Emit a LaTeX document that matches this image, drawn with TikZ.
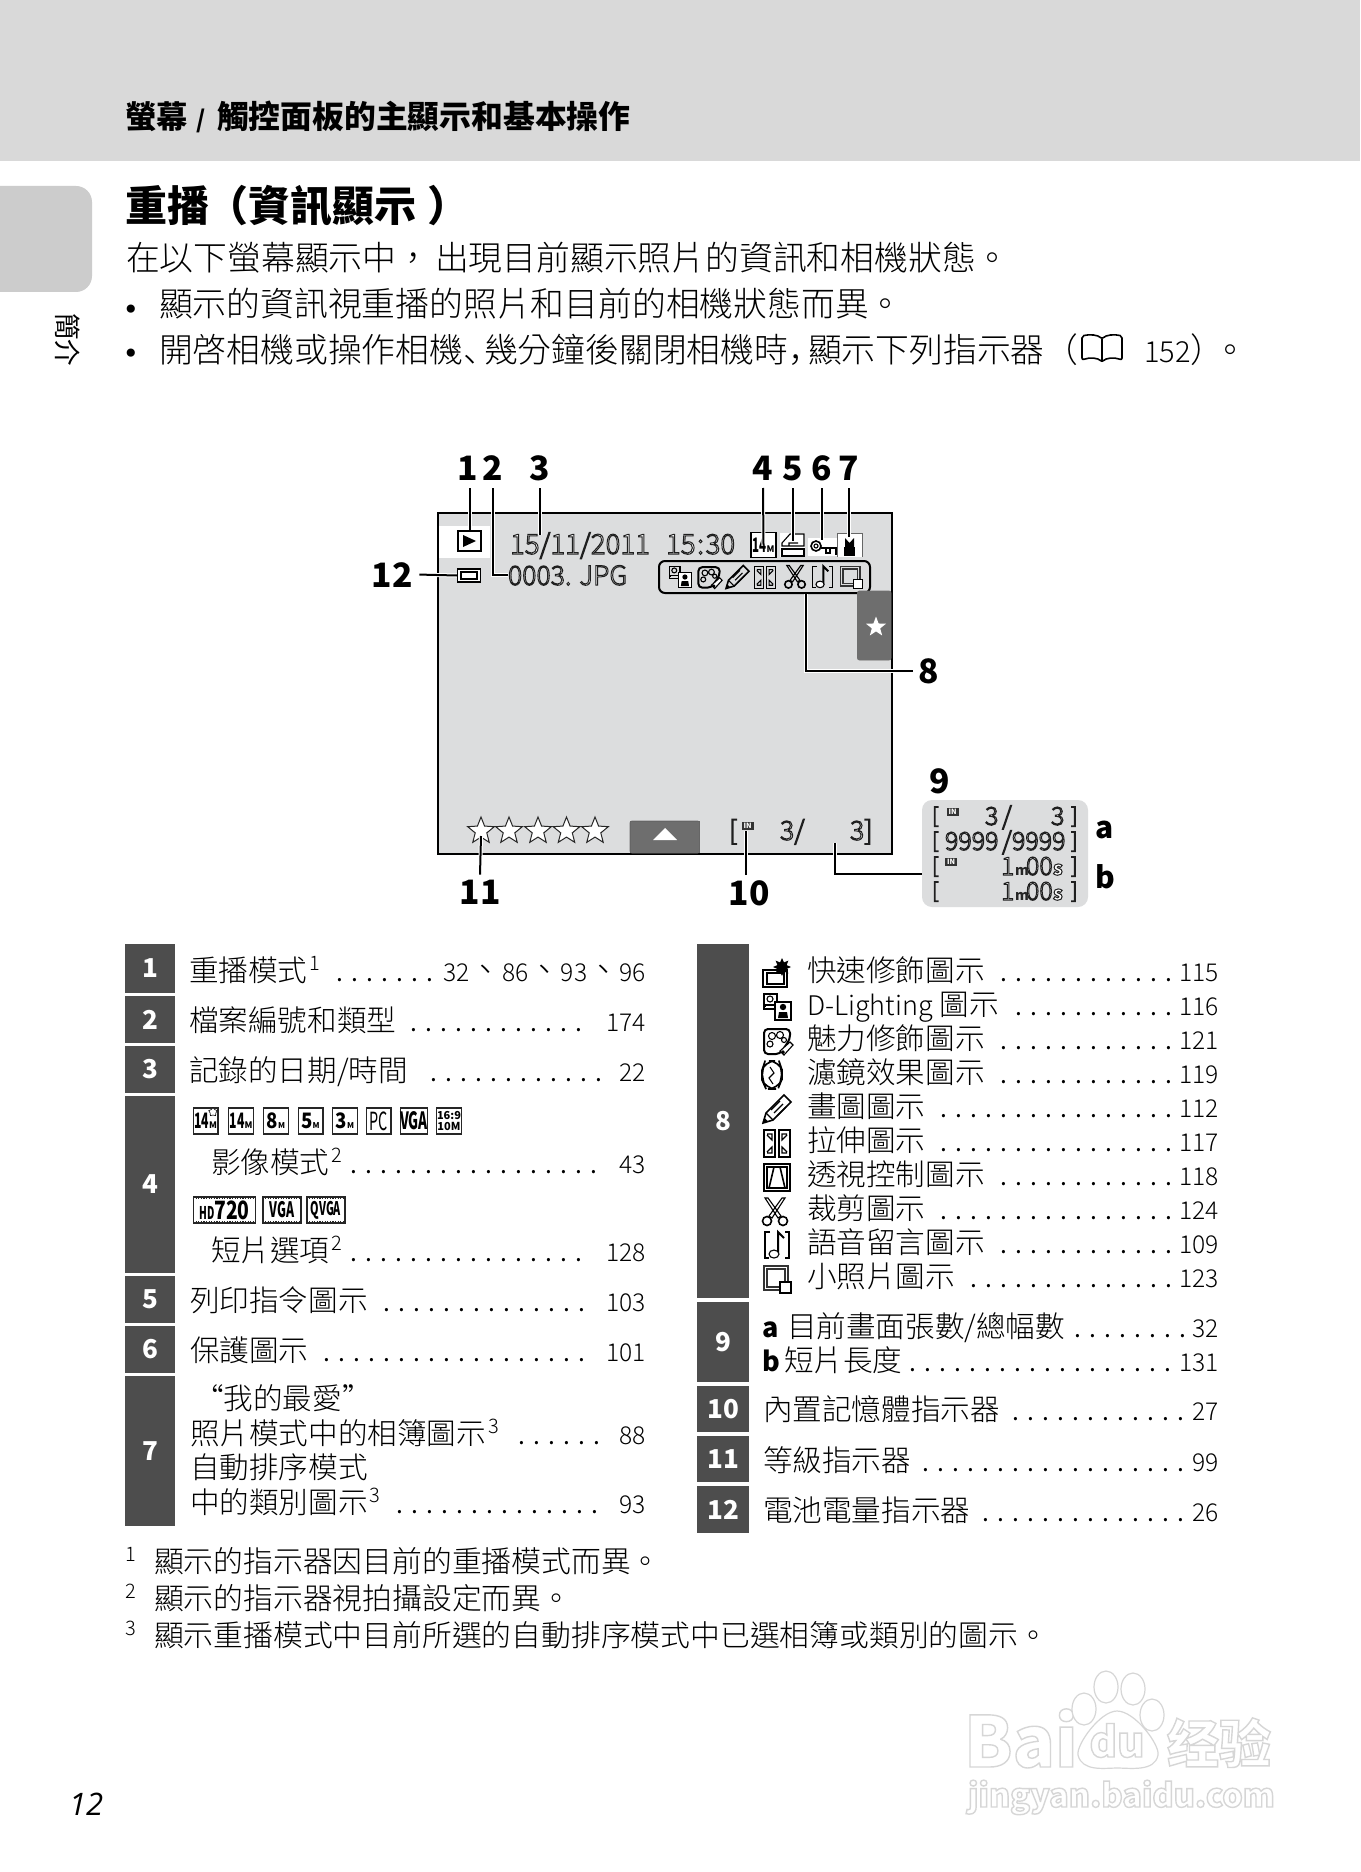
\documentclass[tikz,border=0pt]{standalone}
\usepackage{fontspec}
\usepackage{graphicx}
\usetikzlibrary{shapes.geometric}
\setmainfont{Noto Sans CJK TC}
\newfontfamily\lf{Noto Sans CJK TC Light}
\newfontfamily\jpf{Noto Sans CJK JP Light}
\newfontfamily\osf{Open Sans}
\newfontfamily\djf{DejaVu Sans}
\newcommand\fs[1]{\fontsize{#1}{#1}\selectfont}
\newcommand\pn[1]{{\jpf #1}}
\newcommand\nar[1]{\scalebox{.72}[1.25]{#1}}
\newcommand\wid[1]{\scalebox{1.1}[1.25]{#1}}
\newcommand\ol[1]{\special{pdf:code 2 Tr 0.5 w 0.12 G 1 g}#1\special{pdf:code 0 Tr 0 g 0 G}}
\newcommand\wmk[1]{\special{pdf:code 2 Tr 0.7 w 0.84 G 1 g}#1\special{pdf:code 0 Tr 0 g 0 G}}
\newcommand\sups[1]{\kern1pt\raisebox{5.5pt}{\fs{10}#1}}
\definecolor{band}{HTML}{D9D9D9}
\definecolor{tabc}{HTML}{CCCCCC}
\definecolor{screen}{HTML}{DCDDDE}
\definecolor{numc}{HTML}{4D4D4D}
\definecolor{midg}{HTML}{6E6E6E}
\newcount\tc
\tikzset{
 txt/.style={inner sep=0pt,outer sep=0pt,anchor=base west},
 txr/.style={inner sep=0pt,outer sep=0pt,anchor=base east},
 txc/.style={inner sep=0pt,outer sep=0pt,anchor=base},
 tb/.style={font=\lf\fs{14.8},yshift=-.75pt},
 pg/.style={font=\lf\fs{12.3},yshift=-.75pt},
 body/.style={font=\lf\fs{16.9}},
 foot/.style={font=\lf\fs{14.9}},
 lab/.style={txc,font=\fs{16.8}\bfseries},
 screentxt/.style={font=\lf\fs{13.3}},
 datetxt/.style={font=\lf\fs{13.8}},
 pantxt/.style={font=\lf\fs{12.5}},
 pbr/.style={font=\lf\fs{10.5}},
 numbox/.style={fill=numc},
 numtxt/.style={inner sep=0pt,text=white,font=\fs{13}\bfseries},
 lead/.style={line width=1pt,black,line cap=butt,preaction={draw,white,line width=2pt}},
 ic/.style={line width=.55pt,black},
 pic1/.style={draw=black!85,line width=.6pt,inner sep=0pt,minimum width=12.4pt,minimum height=13pt,font=\fs{8.5}\bfseries},
 film/.style={pic1,fill=white},
 filmd/.style={line width=.6pt,dash pattern=on .6pt off .7pt,black!85},
 ratestar/.style={star,star points=5,star point ratio=2.3,draw=black!85,fill=white,line width=.5pt,minimum size=14pt,inner sep=0pt},
 wm/.style={draw=black!16,fill=white,line width=.6pt},
}
\newcommand\T[4][]{\global\advance\tc by 1 \node[txt,#1] (t\the\tc) at (#2,#3) {#4};}
\newcommand\R[4][]{\global\advance\tc by 1 \node[txr,#1] (t\the\tc) at (#2,#3) {#4};}
% dot leader: first dot centre, count, baseline
\newcommand\ldr[3]{\global\advance\tc by 1 \node[txt,font=\fs{12.3},yshift=-.75pt] (t\the\tc) at ({#1-7.5},#3) {\hbox to #2\dimexpr 7.5pt\relax{\xleaders\hbox to 7.5pt{\hss.\hss}\hfill}};}
\newcommand\NB[6]{\path[numbox] (#2,#3) rectangle node[numtxt] (#1) {#6} (#4,#5);}
% icons, drawn round a centre, about 28 px across
\newcommand\icDL[3]{\begin{scope}[shift={(#1,#2)},scale=#3]
 \draw[ic] (-13,-13) rectangle (0,2); \draw[ic] (-7,-8) circle (3); \draw[ic] (-12,0)--(-12,-2)--(-2,-2)--(-2,0);
 \draw[ic,fill=white] (-2,-5) rectangle (14,13); \fill (6,0) circle (3.2); \fill (1,11)--(2,5)--(10,5)--(11,11)--cycle;\end{scope}}
\newcommand\icGlam[3]{\begin{scope}[shift={(#1,#2)},scale=#3]
 \draw[line width=1pt,rounded corners=2pt] (-13,-12)--(13,-12)--(13,-2)--(3,13)--(-13,13)--cycle;
 \draw[ic] (-5,-5) circle (3.5) (3,-6) circle (3.5) (7,-1) circle (2.5) (-7,3) circle (3);
 \draw[ic,fill=white] (3,10) -- (13,1) -- (16,4) -- (7,14) -- cycle; \draw[ic] (6,11) circle (1.2);\end{scope}}
\newcommand\icPencil[3]{\begin{scope}[shift={(#1,#2)},scale=#3]
 \draw[line width=.8pt] (-14,14)--(-11,4)--(7,-14)--(14,-7)--(-4,11)--cycle; \draw[ic] (-11,4)--(-4,11) (-6,1)--(3,-8) (-3,4)--(6,-5) (0,7)--(9,-2); \fill (-14,14)--(-12.5,9)--(-9,12.5)--cycle;\end{scope}}
\newcommand\icStretch[3]{\begin{scope}[shift={(#1,#2)},scale=#3]
 \draw[line width=.7pt] (-13,-13) rectangle (-2,14) (2,-13) rectangle (13,14);
 \draw[ic] (-10,-9)--(-5,-9)--(-5,-3)--(-10,-8) (10,-9)--(5,-9)--(5,-3)--(10,-8) (-10,10)--(-5,10)--(-5,4)--(-10,9) (10,10)--(5,10)--(5,4)--(10,9);\end{scope}}
\newcommand\icPersp[3]{\begin{scope}[shift={(#1,#2)},scale=#3]
 \draw[line width=1pt] (-13,-13) rectangle (13,14); \draw[ic] (-10,-10) rectangle (10,11); \draw[line width=.8pt] (-3,-10)--(-8,11) (3,-10)--(8,11);\end{scope}}
\newcommand\icCut[3]{\begin{scope}[shift={(#1,#2)},scale=#3]
 \draw[line width=.55pt] (-10,-14)--(-7,-14)--(6,4)--(3,6)--cycle (10,-14)--(7,-14)--(-6,4)--(-3,6)--cycle; \draw[line width=.8pt] (-8,9) circle (4.5) (8,9) circle (4.5);\end{scope}}
\newcommand\icVoice[3]{\begin{scope}[shift={(#1,#2)},scale=#3]
 \draw[line width=.8pt] (-7,-13)--(-12,-13)--(-12,13)--(-8,13) (8,-13)--(12,-13)--(12,13)--(8,13);
 \draw[line width=1pt] (1,8)--(1,-13)--(7,-7); \draw[ic,fill=white] (-3,9) ellipse (5 and 4);\end{scope}}
\newcommand\icSmall[3]{\begin{scope}[shift={(#1,#2)},scale=#3]
 \draw[line width=.7pt,black!80] (-13,-13) rectangle (11,11) (-10,-10) rectangle (8,8); \draw[ic,fill=white] (3,3) rectangle (14,14);\end{scope}}
\newcommand\icQuick[3]{\begin{scope}[shift={(#1,#2)},scale=#3]
 \draw[line width=.8pt] (-14,-3) rectangle (10,14); \draw[ic] (-10,0) rectangle (7,11);
 \node[star,star points=8,star point ratio=1.8,fill=black,minimum size=9pt,inner sep=0pt] (qs) at (5,-6) {};\end{scope}}
\newcommand\icFilter[3]{\begin{scope}[shift={(#1,#2)},scale=#3]
 \draw[line width=.8pt,rounded corners=5pt] (-7,-14)--(7,-14)--(10,-5)--(10,4)--(6,14)--(-6,14)--(-10,5)--(-10,-5)--cycle;
 \draw[ic] (-2,-8)--(2,-2)--(-3,3)--(1,9);\end{scope}}
\newcommand\icIN[2]{\node[fill=black!80,text=white,inner sep=0pt,minimum width=6pt,minimum height=4pt,font=\fs{3.6}\bfseries] (t\the\tc i#1) at (#1,#2) {IN};}
\newcommand\panelrow[1]{\T[pbr]{932}{#1}{\ol{[}}\T[pbr]{1071}{#1}{\ol{]}}}
\newcommand\mrow[1]{\T[pantxt]{1001}{#1}{\ol{1}}\T[font=\fs{7}\bfseries,text=black!85]{1015}{#1}{m}\T[pantxt]{1026}{#1}{\ol{00}}\T[font=\fs{9.5}\bfseries]{1053}{#1}{\ol{s}}}
\begin{document}
\begin{tikzpicture}[x=.5pt,y=-.5pt]
\useasboundingbox (0,0) rectangle (1360,1872);
\fill[white] (0,0) rectangle (1360,1872);
% header
\fill[band] (0,0) rectangle (1360,161);
\T[font=\fs{15.7}\bfseries]{125}{129}{螢幕}
\T[font=\fs{12}\bfseries]{196}{129}{/}
\T[font=\fs{15.9}\bfseries]{217}{129}{觸控面板的主顯示和基本操作}
% side tab
\fill[tabc,rounded corners=8pt] (-20,186) rectangle (92,292);
\node[rotate=-90,inner sep=0pt,font=\fs{13.3}] (side) at (68,340) {簡介};
% title and intro
\T[font=\fs{21}\bfseries]{125}{222}{重播}
\T[font=\fs{21}\bfseries]{206}{222}{（資訊顯示\kern6pt）}
\T[body]{126}{271}{在以下螢幕顯示中，}
\T[body]{435}{271}{出現目前顯示照片的資訊和相機狀態。}
\node[txc,font=\djf\fs{14}] (b1) at (131,320) {•};
\T[body]{159}{317}{顯示的資訊視重播的照片和目前的相機狀態而異。}
\node[txc,font=\djf\fs{14}] (b2) at (131,364) {•};
\T[body]{159}{363}{開啓相機或操作相機\pn{、}}
\T[body]{484}{363}{幾分鐘後關閉相機時\pn{，}}
\T[body]{808}{363}{顯示下列指示器（}
\draw[line width=.8pt,rounded corners=1pt] (1082,336) .. controls (1090,334) and (1098,335) .. (1102,339) .. controls (1106,335) and (1114,334) .. (1122,336) -- (1122,360) .. controls (1114,357) and (1106,358) .. (1102,362) .. controls (1098,358) and (1090,357) .. (1082,360) -- cycle;
\draw[line width=.8pt] (1102,339) -- (1102,362);
\T[font=\lf\fs{14.5}]{1144}{363}{152}
\T[body]{1190}{363}{）\kern-5pt。}
% screen
\draw[fill=screen,line width=1pt] (438,513) rectangle (892,854);
\fill[white] (439,526) rectangle (490,558);
\node[draw=black,line width=.8pt,fill=white,inner sep=0pt,minimum width=11.5pt,minimum height=10pt] (play) at (469.5,541) {};
\fill (463,535) -- (463,547) -- (476,541) -- cycle;
\node[txt,datetxt] (date) at (510,554) {\ol{15/11/2011}};
\node[txt,datetxt] (time) at (666,554) {\ol{15\kern.8pt:\kern.8pt30}};
\node[txt,screentxt] (filen) at (508,585) {\ol{0003. JPG}};
% battery
\node[draw=black,line width=.6pt,fill=white,inner sep=0pt,minimum width=11.5pt,minimum height=6.5pt] (batt) at (469,575.5) {};
\draw[ic] (461,572) rectangle (477,579);
% 14M
\node[draw=black,fill=white,line width=.7pt,inner sep=0pt,minimum width=12.5pt,minimum height=12.5pt,font=\fs{8}\bfseries] (m14) at (763.5,545) {\nar{14}{\fs{4.5}M}};
\fill[white] (780,533) rectangle (805,557);
\draw[ic] (782,546)--(782,543)--(790,534)--(804,534)--(804,546)--cycle (789,546)--(789,543)--(798,543); \draw[ic] (782,549) rectangle (804,556);
\coordinate (c5) at (792.5,541);
\fill[white] (808,538) rectangle (837,556);
\draw[line width=.8pt] (816,546) circle (5); \draw[ic] (816,546) circle (2); \draw[line width=.7pt] (821,548)--(836,548)--(836,555) (826,548)--(826,553)--(830,553)--(830,548);
\coordinate (c6) at (822,540);
\fill[white] (837,533) rectangle (862,557); \draw[black!60,line width=.4pt] (837,557)--(837,533)--(862,533)--(862,557);
\fill (844,547) rectangle (855,556); \fill (845,538) -- (849.5,543) -- (854,538) -- (854,547) -- (845,547) -- cycle;
\coordinate (c7) at (849,537);
% icon bar
\node[draw=black,fill=screen,line width=1pt,rounded corners=3pt,inner sep=0pt,minimum width=105.5pt,minimum height=16pt] (bar) at (764.5,577) {};
\icDL{680}{577}{.82}
\icGlam{709}{577}{.82}
\icPencil{737.5}{577}{.82}
\icStretch{765}{577}{.82}
\icCut{795}{577}{.82}
\icVoice{822.5}{577}{.82}
\icSmall{851}{577}{.82}
% star tab
\draw[midg,fill=midg,rounded corners=1pt] (857.5,591) rectangle (891,660);
\node[star,star points=5,star point ratio=2.4,fill=white,inner sep=0pt,minimum size=10.5pt] (favstar) at (876,627) {};
% rating stars
\node[ratestar] (s1) at (481,831) {};
\node[ratestar] (s2) at (509,831) {};
\node[ratestar] (s3) at (538,831) {};
\node[ratestar] (s4) at (566.5,831) {};
\node[ratestar] (s5) at (595,831) {};
\draw[midg,fill=midg,rounded corners=1pt] (630,821) rectangle (699.5,853);
\draw[black!60,line width=.3pt] (630,853)--(630,821)--(699.5,821)--(699.5,853);
\fill[white] (653,840) -- (665,828) -- (677,840) -- cycle;
\node[txt,screentxt] (brk) at (729,840) {\ol{[}};
\icIN{747.5}{826}
\node[txt,screentxt] (cnt) at (780,840) {\ol{3/}};
\node[txt,screentxt] (tot) at (850,840) {\ol{3]}};
% labels and leaders
\node[lab] (n1) at (468,480) {1};
\node[lab] (n2) at (493,480) {2};
\node[lab] (n3) at (540,480) {3};
\node[lab] (n4) at (763,480) {4};
\node[lab] (n5) at (792.5,480) {5};
\node[lab] (n6) at (822,480) {6};
\node[lab] (n7) at (849,480) {7};
\node[lab] (n12) at (392,587) {12};
\node[lab] (n8) at (929,683) {8};
\node[lab] (n9) at (940,793) {9};
\node[lab] (n11) at (480,904) {11};
\node[lab] (n10) at (749,905) {10};
\coordinate (c3) at (540,535);
\coordinate (c8) at (806,594);
\coordinate (c8e) at ([xshift=-3pt]n8.west);
\coordinate (c11) at (481,836);
\coordinate (c10) at (746,831);
\coordinate (c9) at (835,843);
\coordinate (c9e) at (924,874);
\draw[lead] ([yshift=-4pt]n1.south -| play.north) -- (play.north);
\draw[lead] ([yshift=-4pt]n2.south) |- (filen.west);
\draw[lead] ([yshift=-4pt]n3.south) -- (c3);
\draw[lead] ([yshift=-4pt]n4.south) -- (m14.center);
\draw[lead] ([yshift=-4pt]n5.south) -- (c5);
\draw[lead] ([yshift=-4pt]n6.south) -- (c6);
\draw[lead] ([yshift=-4pt]n7.south) -- (c7);
\draw[lead] ([xshift=3.5pt]n12.east) -- (batt.west);
\draw[lead] (c8) |- (c8e);
\draw[lead] ([yshift=2.5pt]n11.north) -- (c11);
\draw[lead] ([yshift=2.5pt]n10.north -| c10) -- (c10);
\draw[lead] (c9) |- (c9e);
% panel 9
\draw[fill=screen,draw=none,rounded corners=5pt] (922,800) rectangle (1088,907);
\panelrow{823}
\panelrow{848}
\panelrow{873}
\panelrow{898}
\T[pantxt]{985}{825}{\ol{3}}
\T[pantxt]{1002}{825}{\ol{/}}
\T[pantxt]{1051}{825}{\ol{3}}
\T[pantxt]{945}{850}{\ol{9999}}
\T[pantxt]{1002}{850}{\ol{/}}
\T[pantxt]{1012}{850}{\ol{9999}}
\mrow{875}
\mrow{900}
\icIN{952.5}{811.5}
\icIN{951}{861.5}
\node[txc,font=\fs{15}\bfseries] (pa) at (1105,838) {a};
\node[txc,font=\fs{15}\bfseries] (pb) at (1105,888) {b};
% left table
\NB{b1a}{125}{944}{175}{993}{1}
\NB{b2a}{125}{996}{175}{1043}{2}
\NB{b3a}{125}{1046}{175}{1093}{3}
\NB{b4a}{125}{1096}{175}{1273}{4}
\NB{b5a}{125}{1276}{175}{1323}{5}
\NB{b6a}{125}{1326}{175}{1373}{6}
\NB{b7a}{125}{1376}{175}{1526}{7}
\T[tb]{189}{980}{重播模式\sups{1}}
\ldr{340}{7}{980}
\R[pg]{646}{980}{32{\fs{16.2}、}86{\fs{16.2}、}93{\fs{16.2}、}96}
\T[tb]{189}{1030}{檔案編號和類型}
\ldr{414}{12}{1030}
\R[pg]{646}{1030}{174}
\T[tb]{189}{1080}{記錄的日期/時間}
\ldr{434}{12}{1080}
\R[pg]{646}{1080}{22}
\node[pic1] (p1) at (205.5,1121) {\nar{14}{\fs{4.5}M}};
\node[star,star points=5,fill=white,draw=black,line width=.3pt,minimum size=4.5pt,inner sep=0pt] (p1s) at (213,1112) {};
\node[pic1] (p2) at (241,1121) {\nar{14}{\fs{4.5}M}};
\node[pic1,font=\fs{8.5}\bfseries] (p3) at (276,1121) {\wid{8}{\fs{4}M}};
\node[pic1,font=\fs{8.5}\bfseries] (p4) at (310.5,1121) {\wid{5}{\fs{4}M}};
\node[pic1,font=\fs{8.5}\bfseries] (p5) at (345,1121) {\wid{3}{\fs{4}M}};
\node[pic1,font=\fs{10}] (p6) at (378.5,1121) {\nar{PC}};
\node[pic1,font=\fs{9.5}\bfseries] (p7) at (414,1121) {\nar{VGA}};
\node[pic1,font=\fs{5.5}\bfseries,align=center] (p8) at (449,1121) {16:9\\10M};
\T[tb]{211}{1172}{影像模式\sups{2}}
\ldr{354}{17}{1172}
\R[pg]{646}{1172}{43}
\node[film,minimum width=31pt,font=\fs{10.5}\bfseries] (v1) at (224.5,1210) {{\fs{7}\nar{HD}}\scalebox{.92}[1.2]{720}};
\node[film,minimum width=19pt,font=\fs{8.5}\bfseries] (v2) at (282,1210) {\nar{VGA}};
\node[film,minimum width=19pt,font=\fs{7.5}\bfseries] (v3) at (326,1210) {\nar{QVGA}};
\foreach \v in {v1,v2,v3}{
 \draw[filmd] ([yshift=-1.1pt]\v.north west) -- ([yshift=-1.1pt]\v.north east);
 \draw[filmd] ([yshift=1.1pt]\v.south west) -- ([yshift=1.1pt]\v.south east);
}
\T[tb]{211}{1260}{短片選項\sups{2}}
\ldr{354}{16}{1260}
\R[pg]{646}{1260}{128}
\T[tb]{190}{1310}{列印指令圖示}
\ldr{387}{14}{1310}
\R[pg]{646}{1310}{103}
\T[tb]{190}{1360}{保護圖示}
\ldr{327}{18}{1360}
\R[pg]{646}{1360}{101}
\T[tb]{194}{1408}{“我的最愛”}
\T[tb]{190}{1443}{照片模式中的相簿圖示\sups{3}}
\ldr{522}{6}{1443}
\R[pg]{646}{1443}{88}
\T[tb]{190}{1477}{自動排序模式}
\T[tb]{190}{1512}{中的類別圖示\sups{3}}
\ldr{400}{14}{1512}
\R[pg]{646}{1512}{93}
% right table
\NB{b8a}{697}{944}{749}{1298}{8}
\NB{b9a}{697}{1302}{749}{1382}{9}
\NB{b10a}{697}{1386}{749}{1432}{10}
\NB{b11a}{697}{1436}{749}{1482}{11}
\NB{b12a}{697}{1486}{749}{1533}{12}
\icQuick{777}{973}{1}
\icDL{777}{1007}{1}
\icGlam{777}{1041}{1}
\icFilter{772}{1075}{1}
\icPencil{777}{1109}{1}
\icStretch{777}{1143}{1}
\icPersp{777}{1177}{1}
\icCut{775}{1212}{1}
\icVoice{777}{1245}{1}
\icSmall{777}{1279}{1}
\T[tb]{807}{980}{快速修飾圖示}\ldr{1004}{12}{980}\R[pg]{1219}{980}{115}
\T[tb]{807}{1014}{{\fs{13.5}D-Lighting} 圖示}\ldr{1019}{11}{1014}\R[pg]{1219}{1014}{116}
\T[tb]{807}{1048}{魅力修飾圖示}\ldr{1004}{12}{1048}\R[pg]{1219}{1048}{121}
\T[tb]{807}{1082}{濾鏡效果圖示}\ldr{1004}{12}{1082}\R[pg]{1219}{1082}{119}
\T[tb]{807}{1116}{畫圖圖示}\ldr{944}{16}{1116}\R[pg]{1219}{1116}{112}
\T[tb]{807}{1150}{拉伸圖示}\ldr{944}{16}{1150}\R[pg]{1219}{1150}{117}
\T[tb]{807}{1184}{透視控制圖示}\ldr{1004}{12}{1184}\R[pg]{1219}{1184}{118}
\T[tb]{807}{1218}{裁剪圖示}\ldr{944}{16}{1218}\R[pg]{1219}{1218}{124}
\T[tb]{807}{1252}{語音留言圖示}\ldr{1004}{12}{1252}\R[pg]{1219}{1252}{109}
\T[tb]{807}{1286}{小照片圖示}\ldr{974}{14}{1286}\R[pg]{1219}{1286}{123}
\T[font=\fs{13.5}\bfseries,yshift=-.75pt]{762}{1336}{a}
\T[tb]{787}{1336}{目前畫面張數/總幅數}\ldr{1078}{8}{1336}\R[pg]{1219}{1336}{32}
\T[font=\fs{13.5}\bfseries,yshift=-.75pt]{762}{1370}{b}
\T[tb]{784}{1370}{短片長度}\ldr{913}{18}{1370}\R[pg]{1219}{1370}{131}
\T[tb]{763}{1419}{內置記憶體指示器}\ldr{1016}{12}{1419}\R[pg]{1219}{1419}{27}
\T[tb]{763}{1470}{等級指示器}\ldr{926}{18}{1470}\R[pg]{1219}{1470}{99}
\T[tb]{763}{1520}{電池電量指示器}\ldr{986}{14}{1520}\R[pg]{1219}{1520}{26}
% footnotes
\T[font=\lf\fs{10}]{125}{1561}{1}
\T[foot]{154}{1572}{顯示的指示器因目前的重播模式而異。}
\T[font=\lf\fs{10}]{125}{1598}{2}
\T[foot]{154}{1609}{顯示的指示器視拍攝設定而異。}
\T[font=\lf\fs{10}]{125}{1635}{3}
\T[foot]{154}{1646}{顯示重播模式中目前所選的自動排序模式中已選相簿或類別的圖示。}
% page number
\T[font=\osf\itshape\fs{15.5}]{69}{1815}{12}
% watermark
\T[font=\fs{35}\bfseries]{964}{1767}{\wmk{Bai}}
\draw[wm] (1084,1709) ellipse (12 and 16);
\draw[wm] (1106,1687) ellipse (12 and 16);
\draw[wm] (1133,1689) ellipse (12 and 16);
\draw[wm] (1152,1715) ellipse (12 and 16);
\draw[wm] (1117,1711) .. controls (1135,1711) and (1160,1745) .. (1158,1755) .. controls (1155,1772) and (1130,1768) .. (1117,1768) .. controls (1105,1768) and (1082,1772) .. (1078,1755) .. controls (1076,1745) and (1100,1711) .. (1117,1711) -- cycle;
\node[txc,font=\fs{21}\bfseries] (du) at (1117,1757) {\wmk{du}};
\T[font=\fs{26}\bfseries]{1167}{1763}{\wmk{经验}}
\T[font=\fs{16.2}\bfseries]{968}{1807}{\wmk{jingyan.baidu.com}}
\end{tikzpicture}
\end{document}
